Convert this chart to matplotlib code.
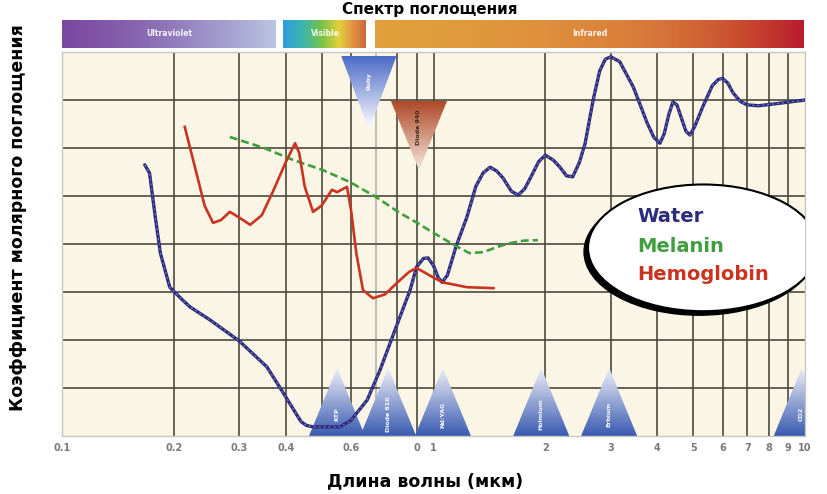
import numpy as np
import matplotlib
matplotlib.use("Agg")
import matplotlib.pyplot as plt
from matplotlib.patches import Polygon, Ellipse
from matplotlib.colors import LinearSegmentedColormap
from matplotlib.transforms import ScaledTranslation

# absorption curves (wavelength in um, relative absorption)
water_x = [0.167, 0.172, 0.178, 0.184, 0.195, 0.21, 0.221, 0.25, 0.3, 0.356, 0.394, 0.42,
           0.44, 0.455, 0.474, 0.52, 0.56, 0.60, 0.663, 0.718, 0.787, 0.865, 0.9, 0.94,
           0.967, 1.0, 1.03, 1.055, 1.09, 1.15, 1.23, 1.30, 1.36, 1.42, 1.48, 1.54,
           1.62, 1.69, 1.76, 1.83, 1.92, 2.0, 2.1, 2.19, 2.28, 2.37, 2.47, 2.56, 2.69,
           2.8, 2.9, 3.0, 3.17, 3.3, 3.45, 3.6, 3.76, 3.92, 4.07, 4.18, 4.3, 4.41,
           4.52, 4.65, 4.78, 4.9, 5.05, 5.3, 5.63, 5.85, 6.0, 6.2, 6.4, 6.7, 6.98,
           7.5, 8.5, 10.0]
water_y = [5.65, 5.48, 4.6, 3.81, 3.10, 2.85, 2.69, 2.42, 1.98, 1.44, 0.90, 0.55,
           0.30, 0.22, 0.19, 0.19, 0.19, 0.33, 0.75, 1.375, 2.2, 3.04, 3.52, 3.7,
           3.71, 3.55, 3.3, 3.2, 3.35, 3.95, 4.56, 5.2, 5.48, 5.6, 5.52, 5.37,
           5.1, 5.02, 5.15, 5.4, 5.72, 5.85, 5.75, 5.6, 5.42, 5.4, 5.7, 6.1, 7.0,
           7.6, 7.85, 7.9, 7.8, 7.55, 7.27, 6.9, 6.52, 6.22, 6.1, 6.3, 6.7, 6.96,
           6.9, 6.62, 6.35, 6.27, 6.45, 6.85, 7.3, 7.43, 7.45, 7.35, 7.15, 6.97, 6.9,
           6.88, 6.93, 7.0]

melanin_x = [0.283, 0.35, 0.419, 0.5, 0.596, 0.7, 0.81, 0.9, 1.0, 1.08, 1.16, 1.25,
             1.36, 1.5, 1.61, 1.75, 1.91]
melanin_y = [6.23, 6.0, 5.75, 5.55, 5.29, 4.98, 4.65, 4.45, 4.23, 4.08, 3.94, 3.81,
             3.83, 3.95, 4.02, 4.07, 4.08]

hemo_x = [0.214, 0.228, 0.242, 0.255, 0.268, 0.283, 0.30, 0.321, 0.345, 0.37, 0.40,
          0.424, 0.435, 0.45, 0.474, 0.50, 0.533, 0.55, 0.585, 0.60, 0.62, 0.646,
          0.687, 0.74, 0.80, 0.86, 0.9, 0.95, 1.0, 1.06, 1.23, 1.45]
hemo_y = [6.44, 5.6, 4.8, 4.44, 4.5, 4.67, 4.55, 4.4, 4.6, 5.1, 5.7,
          6.1, 5.9, 5.2, 4.67, 4.8, 5.13, 5.08, 5.19, 4.7, 3.8, 3.04,
          2.87, 2.95, 3.2, 3.42, 3.5, 3.4, 3.3, 3.2, 3.1, 3.08]

# spectral bands on top (um)
band_names = ["Ultraviolet", "Visible", "Infrared"]
band_start = [0.1, 0.394, 0.696]
band_end = [0.377, 0.662, 10.0]

# lasers: bottom markers (apex wavelength) and top markers
laser_names = ["KTP", "Diode 810", "Nd:YAG", "Holmium", "Erbium", "CO2"]
laser_wl = [0.55, 0.755, 1.06, 1.95, 2.97, 9.8]
top_names = ["Ruby", "Diode 940"]
top_wl = [0.67, 0.914]

legend_names = ["Water", "Melanin", "Hemoglobin"]

xticks = [0.1, 0.2, 0.3, 0.4, 0.6, 0.9, 1, 2, 3, 4, 5, 6, 7, 8, 9, 10]
xtick_labels = ["0.1", "0.2", "0.3", "0.4", "0.6", "0", "1", "2", "3", "4", "5",
                "6", "7", "8", "9", "10"]

C_WATER = "#2c2c7c"
C_MEL = "#3f9f3f"
C_HEMO = "#c8341f"

fig = plt.figure(figsize=(8.27, 4.94), dpi=100)
W, H = 827, 494
L, R, T, B = 62, 805, 52, 436
ax = fig.add_axes([L / W, 1 - B / H, (R - L) / W, (B - T) / H])
ax.set_facecolor("#faf5e4")
ax.set_xscale("log")


def grad_poly(axis, verts, c0, c1, z, clip_axes=True):
    poly = Polygon(verts, closed=True, transform=axis.transData,
                   facecolor="none", edgecolor="none")
    xs = [v[0] for v in verts]
    ys = [v[1] for v in verts]
    cm = LinearSegmentedColormap.from_list("g", [c0, c1])
    g = np.linspace(0, 1, 128).reshape(-1, 1)
    im = axis.imshow(g, extent=[min(xs), max(xs), min(ys), max(ys)], origin="lower",
                     cmap=cm, aspect="auto", zorder=z, interpolation="bilinear")
    im.set_clip_path(poly)
    if not clip_axes:
        im.set_clip_box(None)
    return im


# grid
minor = [0.2, 0.3, 0.4, 0.5, 0.6, 0.8, 0.9, 1, 2, 3, 4, 5, 6, 7, 8, 9]
for xv in minor:
    ax.axvline(xv, color="#4a4a3e", lw=1.2, zorder=1)
ax.axvline(0.7, color="#b4b4ac", lw=1.2, zorder=1)
for yv in range(1, 8):
    ax.axhline(yv, color="#4a4a3e", lw=1.2, zorder=1)

# laser triangles at the bottom
hw = 1.19
for name, wl in zip(laser_names, laser_wl):
    verts = [(wl / hw, 0.0), (wl * hw, 0.0), (wl, 1.42)]
    grad_poly(ax, verts, "#3b5cb2", "#eef0f8", 2, clip_axes=(name != "CO2"))
    ax.text(wl, 0.45, name, rotation=90, ha="center", va="center", fontsize=4.5,
            color="white", fontweight="bold", zorder=3)

# top laser triangles
top_geo = [(7.94, 6.38, 1.19, "#4868c6", "#ffffff", "white"),
           (6.98, 5.54, 1.19, "#ad4726", "#f6e6da", "#3a2a20")]
for (name, wl), (ytop, yap, h, c0, c1, tc) in zip(zip(top_names, top_wl), top_geo):
    verts = [(wl / h, ytop), (wl * h, ytop), (wl, yap)]
    grad_poly(ax, verts, c1, c0, 2)
    ax.text(wl, ytop - 0.55, name, rotation=90, ha="center", va="center",
            fontsize=4.5, color=tc, fontweight="bold", zorder=3)

# curves
ax.plot(water_x, water_y, color=C_WATER, lw=2.4, zorder=4,
        solid_capstyle="round", solid_joinstyle="round")
ax.plot(water_x, water_y, color="#7a7ac2", lw=0.8, dashes=(2, 2.5), zorder=4)
ax.plot(melanin_x, melanin_y, color=C_MEL, lw=1.9, dashes=(3, 1.5), zorder=4)
ax.plot(hemo_x, hemo_y, color=C_HEMO, lw=1.9, zorder=4, solid_joinstyle="round")

ax.set_xlim(0.1, 10)
ax.set_ylim(0, 8)
ax.set_yticks([])
ax.set_xticks(xticks)
ax.set_xticks([], minor=True)
ax.set_xticklabels(xtick_labels)
ax.tick_params(axis="x", length=0, pad=5, labelsize=7, labelcolor="#7a7a7a")
for lab in ax.get_xticklabels():
    lab.set_fontweight("bold")
for sp in ax.spines.values():
    sp.set_color("#c8c8c0")
    sp.set_linewidth(1.0)

# legend ellipse
shift = ScaledTranslation(-4 / 100, -4 / 100, fig.dpi_scale_trans)
shadow = Ellipse((0.863, 0.49), 0.31, 0.33, transform=ax.transAxes + shift,
                 facecolor="black", edgecolor="black", zorder=5)
ax.add_patch(shadow)
ell = Ellipse((0.863, 0.49), 0.31, 0.33, transform=ax.transAxes,
              facecolor="white", edgecolor="black", lw=1.5, zorder=6)
ax.add_patch(ell)
for name, col, yp in zip(legend_names, [C_WATER, C_MEL, C_HEMO], [217, 246, 274]):
    fig.text(637 / W, 1 - yp / H, name, color=col, fontsize=14, fontweight="bold",
             ha="left", va="center", zorder=7)

# spectral band bar
bax = fig.add_axes([L / W, 1 - 48 / H, (R - L) / W, 28 / H])
bax.set_xscale("log")
band_cols = [["#7a48a0", "#9c90c8", "#bcc6e2"],
             ["#2c9ede", "#3fb6a8", "#7cc244", "#e2d23c", "#e09040", "#c8643c"],
             ["#e2a03c", "#d8783a", "#c8482e", "#b8182e"]]
for name, x0, x1, cols in zip(band_names, band_start, band_end, band_cols):
    cm = LinearSegmentedColormap.from_list("b", cols)
    g = np.linspace(0, 1, 256).reshape(1, -1)
    bax.imshow(g, extent=[x0, x1, 0, 1], cmap=cm, aspect="auto", interpolation="bilinear")
    bax.text(np.sqrt(x0 * x1), 0.5, name, ha="center", va="center", fontsize=5.5,
             color="white", fontweight="bold", alpha=0.9)
bax.set_xlim(0.1, 10)
bax.set_ylim(0, 1)
bax.axis("off")

fig.text(430 / W, 1 - 14 / H, "Спектр поглощения", ha="center", va="baseline",
         fontsize=11, fontweight="bold")
fig.text(18 / W, 1 - 218 / H, "Коэффициент молярного поглощения", rotation=90,
         ha="center", va="center", fontsize=12.5, fontweight="bold")
fig.text(425 / W, 1 - 481 / H, "Длина волны (мкм)", ha="center", va="center",
         fontsize=12.5, fontweight="bold")

fig.savefig("out.png", dpi=100)
